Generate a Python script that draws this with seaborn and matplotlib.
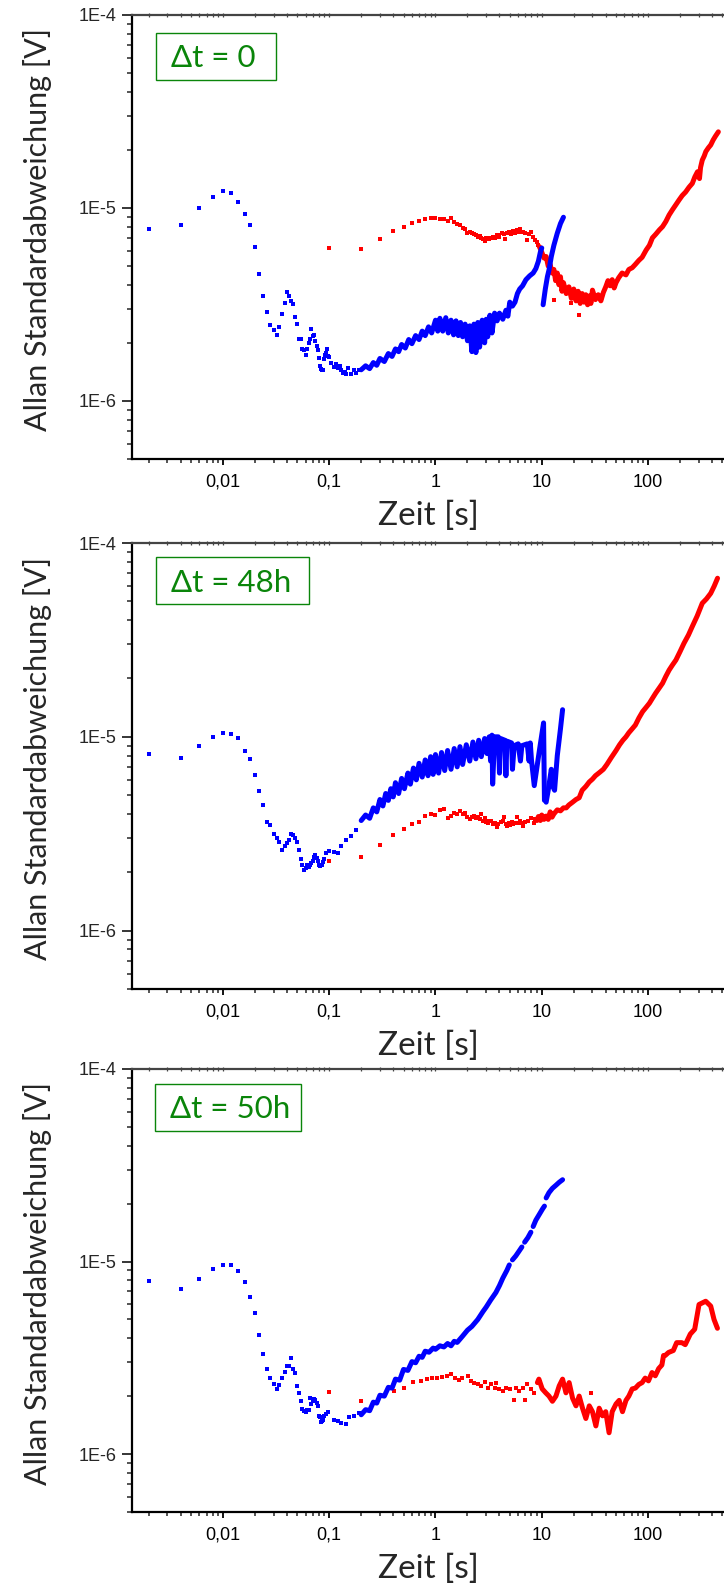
import matplotlib
matplotlib.use("Agg")
import matplotlib.pyplot as plt
import seaborn as sns
from matplotlib.patches import Rectangle
from matplotlib.ticker import LogLocator, NullFormatter

# ---------------- data (tau in s, Allan deviation in microvolt) ----------------
X_TICKS = [0.01, 0.1, 1, 10, 100]
X_TICK_LABELS = ["0,01", "0,1", "1", "10", "100"]
Y_TICKS = [1e-6, 1e-5, 1e-4]
Y_TICK_LABELS = ["1E-6", "1E-5", "1E-4"]
PANEL_LABELS = ["\u0394t = 0", "\u0394t = 48h", "\u0394t = 50h"]

# ---- panel 1 (dt = 0) ----
P1_BLUE_TAU = [0.002, 0.004, 0.006, 0.008, 0.010, 0.012, 0.014, 0.016, 0.018, 0.020,
               0.022, 0.024, 0.026, 0.028, 0.030, 0.032, 0.034, 0.036, 0.038, 0.040,
               0.042, 0.044, 0.046, 0.048, 0.050, 0.052, 0.054, 0.056, 0.058, 0.060,
               0.062, 0.064, 0.066, 0.068, 0.070, 0.072, 0.074, 0.076, 0.078, 0.080,
               0.082, 0.084, 0.086, 0.088, 0.090, 0.092, 0.094, 0.096, 0.098, 0.100,
               0.105, 0.110, 0.115, 0.120, 0.125, 0.130, 0.135, 0.140, 0.145, 0.150,
               0.160, 0.170, 0.180, 0.190]
P1_BLUE_UV = [7.78, 8.13, 10.0, 11.46, 12.3, 12.0, 10.7, 9.3, 8.2, 6.3,
              4.55, 3.51, 2.88, 2.47, 2.32, 2.20, 2.43, 2.82, 3.21, 3.67,
              3.48, 3.29, 3.19, 2.72, 2.51, 2.09, 2.09, 1.85, 1.83, 1.73,
              1.85, 2.00, 2.10, 2.36, 2.17, 2.20, 2.05, 1.93, 1.84, 1.66,
              1.51, 1.47, 1.45, 1.44, 1.65, 1.72, 1.77, 1.85, 1.70, 1.68,
              1.57, 1.50, 1.55, 1.48, 1.52, 1.45, 1.40, 1.42, 1.38, 1.48,
              1.38, 1.44, 1.40, 1.45]
P1_BLUE_LINE_TAU = [0.2, 0.22, 0.24, 0.26, 0.28, 0.3, 0.33, 0.36, 0.39, 0.42, 0.45, 0.48, 0.52, 0.56,
                    0.6, 0.65, 0.7, 0.75, 0.8, 0.86, 0.92, 1.0, 1.05, 1.1, 1.17, 1.25, 1.32, 1.4, 1.48,
                    1.56, 1.64, 1.72, 1.8, 1.9, 2.0, 2.1, 2.2, 2.3, 2.4, 2.5, 2.6, 2.75, 2.9, 3.0, 3.1,
                    3.25, 3.4, 3.6, 3.8, 4.0, 4.3, 4.6, 4.8, 5.0, 5.3, 5.6, 5.9, 6.2, 6.6, 7.1, 7.7,
                    8.3, 8.8, 9.3, 9.7, 10.0,
                    10.3, 10.8, 11.3, 11.7, 12.3, 13.0, 14.0, 15.0, 16.0]
P1_BLUE_LINE_UV = [1.45, 1.52, 1.47, 1.58, 1.53, 1.66, 1.60, 1.76, 1.70, 1.86, 1.80, 1.96, 1.88, 2.08,
                   1.98, 2.18, 2.08, 2.30, 2.18, 2.42, 2.25, 2.62, 2.30, 2.68, 2.30, 2.70, 2.25, 2.62, 2.20,
                   2.60, 2.18, 2.55, 2.15, 2.50, 2.05, 2.45, 1.80, 2.50, 1.78, 2.55, 1.90, 2.62, 2.00, 2.65, 2.15,
                   2.78, 2.25, 2.85, 2.60, 2.85, 2.65, 2.95, 2.75, 3.25, 3.10, 3.25, 3.60, 3.80, 3.95, 4.25, 4.45,
                   4.60, 4.85, 5.30, 5.90, 6.20,
                   3.15, 3.80, 4.40, 4.77, 5.60, 6.40, 7.40, 8.30, 8.95]
P1_BLUE_LINE_SEG = [0] * 66 + [1] * 9
P1_RED_TAU = [0.1, 0.2, 0.3, 0.4, 0.5, 0.6, 0.7, 0.8, 0.9, 1.0, 1.1, 1.2, 1.3, 1.4, 1.5, 1.6, 1.7,
              1.8, 1.9, 2.0, 2.1, 2.2, 2.3, 2.4, 2.5, 2.6, 2.7, 2.8, 2.9, 3.0, 3.1, 3.2, 3.3, 3.5,
              3.6, 3.8, 3.9, 4.0, 4.2, 4.4, 4.5, 4.7, 4.9, 5.1, 5.4, 5.6, 5.9, 6.1, 6.3, 6.6, 7.0,
              7.3, 7.6, 8.0, 8.3, 8.6, 9.0, 9.3, 13.0, 19.0, 22.5]
P1_RED_UV = [6.18, 6.13, 6.88, 7.57, 7.97, 8.36, 8.60, 8.77, 8.90, 8.90, 8.80, 8.80, 8.60, 8.90, 8.43, 8.26, 8.13,
             7.90, 7.76, 7.45, 7.50, 7.40, 7.35, 7.20, 7.10, 7.15, 7.00, 6.90, 6.77, 6.95, 7.00, 6.90, 7.00, 7.05,
             7.00, 7.20, 7.25, 7.10, 7.45, 7.30, 6.90, 7.40, 7.50, 7.30, 7.60, 7.40, 7.70, 7.55, 7.75, 7.50, 7.40,
             6.80, 7.30, 7.55, 7.10, 6.85, 6.70, 6.40, 3.34, 3.20, 2.79]
P1_RED_LINE_TAU = [9.5, 10, 10.5, 11, 11.5, 12, 12.5, 13, 13.5, 14, 14.5, 15, 15.5, 16, 17, 18, 19, 20,
                   21, 22, 23, 24, 25, 26, 27, 28, 29, 30, 32, 34, 36, 38, 40, 42, 44, 46, 48, 50, 53,
                   57, 62, 66, 71, 76, 82, 88, 96, 103, 110, 118, 128, 137, 147, 158, 170, 183, 196,
                   210, 226, 243, 261, 276, 292, 305, 312, 324, 338, 350, 370, 389, 410, 430, 459]
P1_RED_LINE_UV = [6.30, 5.90, 5.50, 5.60, 5.00, 5.10, 4.60, 4.80, 4.20, 4.60, 4.00, 4.40, 3.70, 4.10, 3.60, 3.90, 3.40, 3.80,
                  3.30, 3.70, 3.20, 3.60, 3.25, 3.55, 3.15, 3.50, 3.20, 3.75, 3.35, 3.55, 3.30, 3.65, 3.90, 4.20, 3.95, 4.25, 3.85, 4.10, 4.35,
                  4.60, 4.50, 4.80, 4.90, 5.10, 5.35, 5.55, 6.05, 6.40, 7.00, 7.30, 7.70, 8.00, 8.50, 9.20, 9.80, 10.4, 11.0,
                  11.6, 12.1, 12.8, 13.4, 14.5, 15.4, 14.2, 16.2, 17.7, 18.6, 19.6, 20.5, 21.2, 22.5, 23.5, 24.8]
P1_RED_LINE_SEG = [0] * 73

# ---- panel 2 (dt = 48h) ----
P2_BLUE_TAU = [0.002, 0.004, 0.006, 0.008, 0.010, 0.012, 0.014, 0.016, 0.018, 0.020,
               0.022, 0.024, 0.026, 0.028, 0.030, 0.032, 0.034, 0.036, 0.038, 0.040,
               0.042, 0.044, 0.046, 0.048, 0.050, 0.052, 0.054, 0.056, 0.058, 0.060,
               0.062, 0.064, 0.066, 0.068, 0.070, 0.072, 0.074, 0.076, 0.078, 0.080,
               0.082, 0.084, 0.086, 0.088, 0.090, 0.094, 0.100, 0.110, 0.120, 0.130,
               0.145, 0.160, 0.180]
P2_BLUE_UV = [8.17, 7.82, 9.02, 10.0, 10.5, 10.4, 9.85, 8.47, 7.67, 6.35,
              5.23, 4.43, 3.65, 3.52, 3.16, 3.00, 2.88, 2.62, 2.72, 2.83,
              2.92, 3.15, 3.13, 3.00, 2.88, 2.62, 2.34, 2.19, 2.05, 2.10,
              2.19, 2.12, 2.19, 2.23, 2.28, 2.40, 2.47, 2.37, 2.28, 2.19,
              2.16, 2.17, 2.19, 2.25, 2.34, 2.51, 2.59, 2.56, 2.51, 2.72,
              2.94, 3.09, 3.32]
P2_BLUE_LINE_TAU = [0.2, 0.22, 0.24, 0.26, 0.28, 0.3, 0.32, 0.34, 0.36, 0.38, 0.4, 0.42, 0.45, 0.48,
                    0.51, 0.55, 0.58, 0.62, 0.66, 0.7, 0.75, 0.8, 0.85, 0.9, 0.95, 1.0, 1.07, 1.14,
                    1.22, 1.3, 1.4, 1.5, 1.6, 1.7, 1.8, 1.95, 2.1, 2.25, 2.4, 2.55, 2.7, 2.9, 3.05,
                    3.2, 3.3, 3.4, 3.45, 3.6, 3.9, 4.0, 4.1, 4.5, 4.6, 4.7, 5.2, 5.3, 5.5, 6.0, 6.3,
                    6.5, 7.3, 7.6, 7.8, 8.0, 8.5, 9.5, 10.4, 10.6,
                    11.0, 11.5, 12.3, 12.8, 13.2, 14.0, 15.0, 15.7]
P2_BLUE_LINE_UV = [3.70, 3.95, 3.80, 4.30, 4.10, 4.75, 4.40, 5.10, 4.70, 5.40, 4.90, 5.80, 5.10, 6.10,
                   5.40, 6.50, 5.70, 6.90, 6.00, 7.30, 6.20, 7.60, 6.30, 7.90, 6.40, 8.10, 6.50, 8.30,
                   6.70, 8.50, 6.80, 8.70, 7.00, 8.90, 7.20, 9.10, 7.50, 9.40, 7.70, 9.60, 7.90, 9.80, 8.20,
                   10.0, 7.50, 10.2, 5.70, 10.0, 10.0, 6.50, 9.80, 9.60, 6.30, 9.50, 9.30, 6.80, 9.00, 9.20, 7.50,
                   9.00, 9.20, 7.50, 9.30, 7.60, 5.60, 8.50, 11.8, 4.70,
                   4.60, 5.30, 6.80, 5.50, 5.30, 8.00, 11.0, 13.8]
P2_BLUE_LINE_SEG = [0] * 68 + [1] * 8
P2_RED_TAU = [0.1, 0.2, 0.3, 0.4, 0.5, 0.6, 0.7, 0.8, 0.9, 1.0, 1.1, 1.2, 1.3, 1.4, 1.5, 1.6, 1.7,
              1.8, 1.9, 2.0, 2.1, 2.2, 2.3, 2.4, 2.5, 2.6, 2.7, 2.8, 2.9, 3.0, 3.1, 3.2, 3.3, 3.5,
              3.6, 3.8, 3.9, 4.1, 4.3, 4.4, 4.6, 4.7, 4.9, 5.0, 5.2, 5.4, 5.6, 5.8, 6.0, 6.2, 6.5,
              6.7, 7.0, 7.5, 8.0, 8.4, 8.7]
P2_RED_UV = [2.30, 2.40, 2.75, 3.10, 3.34, 3.55, 3.63, 3.92, 4.02, 3.93, 4.20, 4.22, 3.81, 3.92, 4.06, 4.00, 4.13,
             4.00, 4.06, 3.88, 3.77, 3.85, 3.92, 3.80, 3.88, 3.75, 4.00, 3.70, 3.81, 3.65, 3.60, 3.70, 3.68, 3.55,
             3.60, 3.43, 3.55, 3.63, 3.70, 3.88, 3.55, 3.45, 3.60, 3.50, 3.65, 3.55, 3.60, 3.88, 3.60, 3.68, 3.60,
             3.45, 3.65, 3.70, 3.81, 3.60, 3.75]
P2_RED_LINE_TAU = [9.0, 9.3, 9.7, 10, 10.5, 11, 11.5, 12, 12.5, 13, 14, 15, 16, 17, 18, 19.5, 21, 22.5,
                   24, 26, 28, 30, 32, 35, 38, 41, 45, 50, 54, 58, 62, 66, 71, 76, 82, 89, 96, 103,
                   110, 118, 127, 137, 147, 158, 170, 183, 200, 218, 240, 261, 290, 324, 355, 389, 420, 451]
P2_RED_LINE_UV = [3.70, 3.88, 3.70, 3.95, 3.75, 3.90, 3.75, 4.10, 3.85, 4.00, 4.20, 4.15, 4.30, 4.30, 4.45, 4.60, 4.75, 4.85,
                  5.30, 5.55, 5.85, 6.05, 6.30, 6.55, 6.80, 7.20, 7.80, 8.50, 9.10, 9.60, 10.0, 10.5, 11.0, 11.5, 12.5, 13.5, 14.2, 14.9,
                  15.8, 16.8, 17.8, 18.9, 20.5, 22.1, 23.5, 24.9, 27.5, 30.4, 33.5, 37.1, 42.0, 48.9, 51.5, 55.0, 60.0, 65.8]
P2_RED_LINE_SEG = [0] * 56

# ---- panel 3 (dt = 50h) ----
P3_BLUE_TAU = [0.002, 0.004, 0.006, 0.008, 0.010, 0.012, 0.014, 0.016, 0.018, 0.020,
               0.022, 0.024, 0.026, 0.028, 0.030, 0.032, 0.034, 0.036, 0.038, 0.040,
               0.042, 0.044, 0.046, 0.048, 0.050, 0.052, 0.054, 0.056, 0.058, 0.060,
               0.062, 0.064, 0.066, 0.068, 0.070, 0.072, 0.074, 0.076, 0.078, 0.080,
               0.082, 0.084, 0.086, 0.088, 0.090, 0.094, 0.098, 0.110, 0.120, 0.130,
               0.145, 0.155, 0.170, 0.190]
P3_BLUE_UV = [7.90, 7.22, 8.16, 9.09, 9.64, 9.57, 8.95, 7.87, 6.56, 5.42,
              4.15, 3.29, 2.78, 2.48, 2.32, 2.17, 2.28, 2.47, 2.67, 2.87,
              2.88, 3.15, 2.78, 2.65, 2.26, 2.07, 1.89, 1.71, 1.67, 1.66,
              1.70, 1.69, 1.95, 1.82, 1.88, 1.94, 1.92, 1.84, 1.78, 1.57,
              1.56, 1.47, 1.48, 1.51, 1.57, 1.62, 1.66, 1.51, 1.49, 1.45,
              1.43, 1.55, 1.57, 1.63]
P3_BLUE_LINE_TAU = [0.2, 0.22, 0.24, 0.26, 0.28, 0.3, 0.33, 0.36, 0.39, 0.42, 0.46, 0.5, 0.55, 0.6,
                    0.65, 0.7, 0.75, 0.8, 0.87, 0.95, 1.0, 1.1, 1.2, 1.3, 1.4, 1.5, 1.6, 1.8, 2.0,
                    2.2, 2.5, 2.8, 3.0, 3.3, 3.7, 4.0, 4.3, 4.7, 4.95,
                    5.3, 5.7, 6.1, 6.5,
                    6.9, 7.4, 7.9,
                    8.3, 8.8, 9.5, 10.2, 10.6,
                    11.0, 11.7, 12.6, 13.6, 14.6, 15.7]
P3_BLUE_LINE_UV = [1.60, 1.70, 1.68, 1.86, 1.84, 2.02, 2.00, 2.22, 2.20, 2.45, 2.42, 2.75, 2.72, 3.02,
                   2.98, 3.22, 3.18, 3.42, 3.38, 3.55, 3.50, 3.65, 3.60, 3.75, 3.65, 3.85, 3.80, 4.10, 4.40,
                   4.60, 5.00, 5.50, 5.80, 6.30, 6.90, 7.50, 8.20, 9.00, 9.60,
                   10.2, 10.7, 11.3, 11.9,
                   12.6, 13.3, 14.2,
                   15.2, 16.4, 17.6, 18.8, 19.4,
                   21.4, 22.8, 24.0, 24.9, 25.8, 26.6]
P3_BLUE_LINE_SEG = [0] * 39 + [1] * 4 + [2] * 3 + [3] * 5 + [4] * 6
P3_RED_TAU = [0.1, 0.2, 0.41, 0.5, 0.61, 0.73, 0.84, 0.93, 1.04, 1.15, 1.28, 1.4, 1.53, 1.65, 1.79,
              2.03, 2.15, 2.3, 2.5, 2.7, 2.9, 3.1, 3.35, 3.6, 3.75, 4.0, 4.3, 4.6, 5.0, 5.5, 5.7,
              6.1, 6.6, 7.0, 7.3, 7.9, 8.5, 29.0]
P3_RED_UV = [2.10, 1.89, 2.13, 2.20, 2.37, 2.40, 2.45, 2.47, 2.48, 2.50, 2.53, 2.60, 2.48, 2.42, 2.48,
             2.53, 2.40, 2.35, 2.30, 2.26, 2.38, 2.20, 2.30, 2.20, 2.35, 2.18, 2.13, 2.20, 2.18, 1.90, 2.20,
             2.13, 2.20, 1.90, 2.30, 2.18, 2.08, 2.08]
P3_RED_LINE_TAU = [9.1, 9.4, 10.1, 10.9, 11.7, 12.6, 13.6, 14.6, 15.7, 16.9, 18.1, 19.5, 21, 22.5,
                   24.2, 26, 28, 30, 32.3, 34.7, 37.3, 40, 43, 46, 50, 53.5, 57.5, 62, 66, 71, 76,
                   82, 88, 94, 101, 109, 117, 126, 135, 140, 145, 156, 173, 186, 208, 224, 250,
                   275, 302, 349, 389, 418, 450]
P3_RED_LINE_UV = [2.35, 2.45, 2.18, 2.08, 2.00, 1.88, 2.00, 2.26, 2.45, 2.08, 2.35, 1.95, 1.78, 2.00,
                  1.73, 1.53, 1.78, 1.66, 1.40, 1.73, 1.58, 1.66, 1.29, 1.66, 1.82, 1.90, 1.66, 1.90, 2.00, 2.18, 2.20,
                  2.30, 2.35, 2.48, 2.40, 2.65, 2.55, 2.78, 2.90, 3.25, 3.25, 3.37, 3.45, 3.79, 3.79, 3.70, 4.20,
                  4.45, 5.98, 6.22, 5.87, 5.00, 4.50]
P3_RED_LINE_SEG = [0] * 53

PANELS = [
    dict(blue=(P1_BLUE_TAU, P1_BLUE_UV), blue_line=(P1_BLUE_LINE_TAU, P1_BLUE_LINE_UV, P1_BLUE_LINE_SEG),
         red=(P1_RED_TAU, P1_RED_UV), red_line=(P1_RED_LINE_TAU, P1_RED_LINE_UV, P1_RED_LINE_SEG)),
    dict(blue=(P2_BLUE_TAU, P2_BLUE_UV), blue_line=(P2_BLUE_LINE_TAU, P2_BLUE_LINE_UV, P2_BLUE_LINE_SEG),
         red=(P2_RED_TAU, P2_RED_UV), red_line=(P2_RED_LINE_TAU, P2_RED_LINE_UV, P2_RED_LINE_SEG)),
    dict(blue=(P3_BLUE_TAU, P3_BLUE_UV), blue_line=(P3_BLUE_LINE_TAU, P3_BLUE_LINE_UV, P3_BLUE_LINE_SEG),
         red=(P3_RED_TAU, P3_RED_UV), red_line=(P3_RED_LINE_TAU, P3_RED_LINE_UV, P3_RED_LINE_SEG)),
]

# ---------------- layout ----------------
W, H = 724, 1584
sns.set_theme(style="white")
plt.rcParams['font.family'] = ['Liberation Sans', 'DejaVu Sans']
LABEL_FONT = ['Lato', 'DejaVu Sans']

fig = plt.figure(figsize=(W / 100, H / 100), dpi=100)
fig.patch.set_facecolor('white')

AX_LEFT, AX_RIGHT = 132, 724
AX_TB = [(15, 459), (543, 989), (1069, 1512)]
BOXES = [((156, 33), (276, 80), (171, 67)),
         ((156, 557), (309, 604), (171, 592)),
         ((155, 1084), (301, 1131), (170, 1118))]

BLUE = '#0000ff'
RED = '#ff0000'
GREEN = '#0a850a'


def scaled(vals):
    return [v * 1e-6 for v in vals]


def draw_line(ax, data, color):
    tau, uv, seg = data
    sns.lineplot(x=tau, y=scaled(uv), units=seg, ax=ax, color=color, lw=3.6,
                 estimator=None, sort=False, legend=False)


for i, p in enumerate(PANELS):
    top, bot = AX_TB[i]
    ax = fig.add_axes([AX_LEFT / W, 1 - bot / H, (AX_RIGHT - AX_LEFT) / W, (bot - top) / H])
    ax.set_xscale('log')
    ax.set_yscale('log')

    draw_line(ax, p['red_line'], RED)
    sns.scatterplot(x=p['red'][0], y=scaled(p['red'][1]), ax=ax, color=RED, marker='s', s=6, linewidth=0)
    draw_line(ax, p['blue_line'], BLUE)
    sns.scatterplot(x=p['blue'][0], y=scaled(p['blue'][1]), ax=ax, color=BLUE, marker='s', s=6, linewidth=0)

    ax.set_xlim(10 ** -2.856, 10 ** 2.715)
    ax.set_ylim(5e-7, 1e-4)

    ax.set_xticks(X_TICKS)
    ax.set_xticklabels(X_TICK_LABELS)
    ax.xaxis.set_minor_locator(LogLocator(base=10, subs=range(2, 10), numticks=20))
    ax.xaxis.set_minor_formatter(NullFormatter())
    ax.set_yticks(Y_TICKS)
    ax.set_yticklabels(Y_TICK_LABELS)
    ax.yaxis.set_minor_locator(LogLocator(base=10, subs=range(2, 10), numticks=20))
    ax.yaxis.set_minor_formatter(NullFormatter())

    ax.tick_params(axis='x', which='major', direction='out', length=4.5, width=1.3, labelsize=13,
                   pad=6, colors='black', bottom=True)
    ax.tick_params(axis='x', which='minor', direction='out', length=2.8, width=1.1, bottom=True)
    ax.tick_params(axis='y', which='major', direction='out', length=7, width=1.3, labelsize=13,
                   pad=4, left=True)
    ax.tick_params(axis='y', which='minor', direction='out', length=3.5, width=1.1, left=True)

    for s in ['left', 'bottom']:
        ax.spines[s].set_color('black')
        ax.spines[s].set_linewidth(1.6)
    ax.spines['right'].set_visible(False)
    ax.spines['top'].set_color('#444444')
    ax.spines['top'].set_linewidth(1.6)

    sec = ax.secondary_xaxis('top')
    sec.set_xticks(X_TICKS)
    sec.xaxis.set_minor_locator(LogLocator(base=10, subs=range(2, 10), numticks=20))
    sec.tick_params(axis='x', which='both', direction='inout', length=3, width=0.9,
                    colors='#444444', labeltop=False)
    sec.xaxis.set_minor_formatter(NullFormatter())
    sec.spines['top'].set_visible(False)

    ax.set_xlabel('Zeit [s]', fontsize=24, family=LABEL_FONT, labelpad=7)
    ax.set_ylabel('Allan Standardabweichung [V]', fontsize=22, family=LABEL_FONT)
    ax.yaxis.set_label_coords((52 - AX_LEFT) / (AX_RIGHT - AX_LEFT), 0.516)
    ax.grid(False)

    (bx0, by0), (bx1, by1), (tx0, tby) = BOXES[i]
    fig.add_artist(Rectangle((bx0 / W, 1 - by1 / H), (bx1 - bx0) / W, (by1 - by0) / H,
                             transform=fig.transFigure, facecolor='white', edgecolor=GREEN,
                             linewidth=1.0, zorder=5))
    fig.text(tx0 / W, 1 - tby / H, PANEL_LABELS[i], color=GREEN, fontsize=22.5,
             family=LABEL_FONT, ha='left', va='baseline', zorder=6)

fig.savefig('out.png', dpi=100, facecolor='white')
